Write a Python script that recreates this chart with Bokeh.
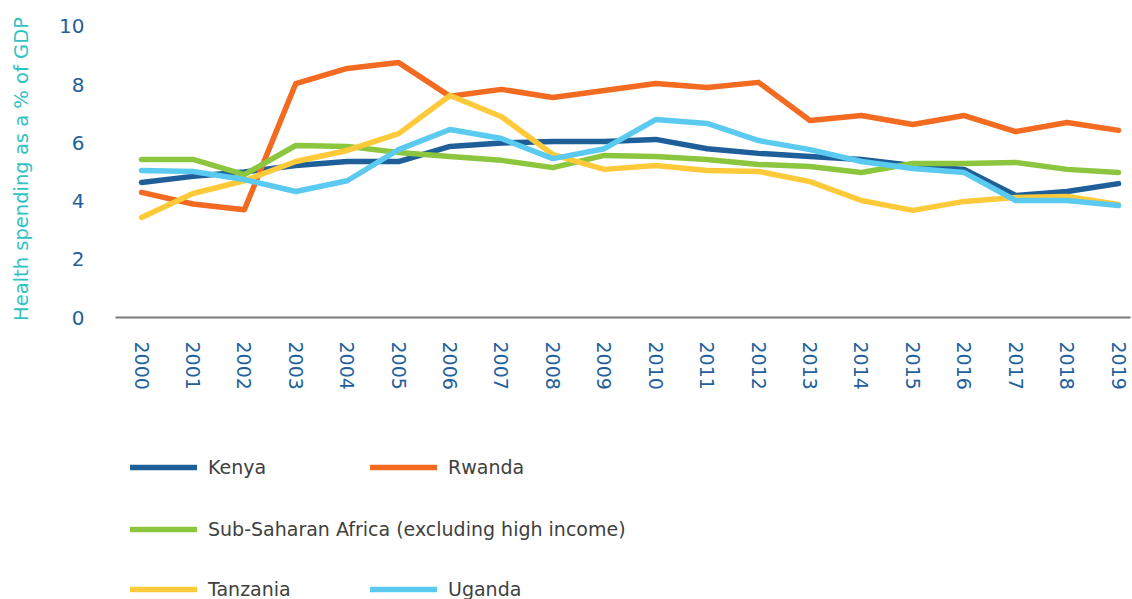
from bokeh.plotting import figure
from bokeh.models import Range1d, FixedTicker, Legend, LegendItem
from bokeh.layouts import column
from bokeh.embed import file_html
from bokeh.resources import INLINE

years = list(range(2000, 2020))
kenya = [4.64, 4.85, 5.00, 5.22, 5.36, 5.36, 5.88, 6.00, 6.05, 6.05, 6.12, 5.80, 5.64, 5.53, 5.43, 5.22, 5.09, 4.19, 4.33, 4.60]
rwanda = [4.30, 3.90, 3.70, 8.04, 8.56, 8.76, 7.60, 7.84, 7.56, 7.80, 8.04, 7.90, 8.08, 6.77, 6.94, 6.63, 6.94, 6.39, 6.70, 6.43]
ssa = [5.43, 5.43, 4.91, 5.91, 5.88, 5.67, 5.53, 5.40, 5.15, 5.57, 5.53, 5.43, 5.26, 5.19, 4.98, 5.29, 5.29, 5.33, 5.09, 4.98]
tanzania = [3.44, 4.26, 4.70, 5.36, 5.74, 6.32, 7.63, 6.90, 5.60, 5.09, 5.22, 5.05, 5.02, 4.67, 4.02, 3.68, 3.99, 4.12, 4.16, 3.88]
uganda = [5.05, 5.02, 4.74, 4.33, 4.70, 5.77, 6.46, 6.15, 5.46, 5.80, 6.80, 6.67, 6.08, 5.77, 5.36, 5.12, 4.98, 4.02, 4.02, 3.85]
y_ticks = [0, 2, 4, 6, 8, 10]

names = ["Kenya", "Rwanda", "Sub-Saharan Africa (excluding high income)", "Tanzania", "Uganda"]
values = [kenya, rwanda, ssa, tanzania, uganda]
colors = ["#1e5f9a", "#f26b21", "#8cc63e", "#ffca3a", "#5bcaf0"]

FONT = "DejaVu Sans"
TICK_COLOR = "#22609c"

# ---- main chart ----
p = figure(width=1132, height=437, output_backend="svg", toolbar_location=None,
           x_range=Range1d(1999.494, 2019.233), y_range=Range1d(0, 10.206),
           min_border_left=115, min_border_right=2, min_border_top=20, min_border_bottom=120)
p.outline_line_color = None
p.grid.grid_line_color = None

for name, vals, col in zip(names, values, colors):
    p.line(years, vals, line_color=col, line_width=5.5, line_cap="round", line_join="round")

xa = p.xaxis[0]
xa.ticker = FixedTicker(ticks=years)
xa.major_label_orientation = "vertical"
xa.major_label_text_font = FONT
xa.major_label_text_font_size = "19px"
xa.major_label_text_color = TICK_COLOR
xa.major_label_standoff = 18
xa.major_tick_line_color = None
xa.minor_tick_line_color = None
xa.axis_line_color = "#7a7a7a"
xa.axis_line_width = 2

ya = p.yaxis[0]
ya.ticker = FixedTicker(ticks=y_ticks)
ya.major_label_text_font = FONT
ya.major_label_text_font_size = "20px"
ya.major_label_text_color = TICK_COLOR
ya.major_label_standoff = 25
ya.major_tick_line_color = None
ya.minor_tick_line_color = None
ya.axis_line_color = None
ya.axis_label = "Health spending as a % of GDP"
ya.axis_label_text_font = FONT
ya.axis_label_text_font_size = "19.5px"
ya.axis_label_text_font_style = "normal"
ya.axis_label_text_color = "#30c3c3"
ya.axis_label_standoff = 23

# ---- legend panel (series drawn off-view so only the legend keys show) ----
lp = figure(width=1132, height=162, output_backend="svg", toolbar_location=None,
            x_range=Range1d(1999.494, 2019.233), y_range=Range1d(100, 101),
            x_axis_location=None, y_axis_location=None,
            min_border_left=115, min_border_right=2, min_border_top=0, min_border_bottom=0)
lp.outline_line_color = None
lp.grid.grid_line_color = None

keys = {}
for name, vals, col in zip(names, values, colors):
    keys[name] = lp.line(years, vals, line_color=col, line_width=5.5, line_cap="round")

rows = [
    (["Kenya", "Rwanda"], 121),
    (["Sub-Saharan Africa (excluding high income)"], 59),
    (["Tanzania", "Uganda"], -1),
]
for row_names, vy in rows:
    leg = Legend(items=[LegendItem(label=n, renderers=[keys[n]]) for n in row_names],
                 location=(15, vy), orientation="horizontal",
                 padding=0, margin=0, spacing=12,
                 glyph_width=67, glyph_height=20, label_height=20, label_width=150,
                 label_standoff=11,
                 label_text_font=FONT, label_text_font_size="19px", label_text_color="#404040",
                 border_line_color=None, background_fill_alpha=0)
    lp.add_layout(leg, "center")

layout = column(p, lp, spacing=0)
open("out.html", "w").write(file_html(layout, INLINE))
